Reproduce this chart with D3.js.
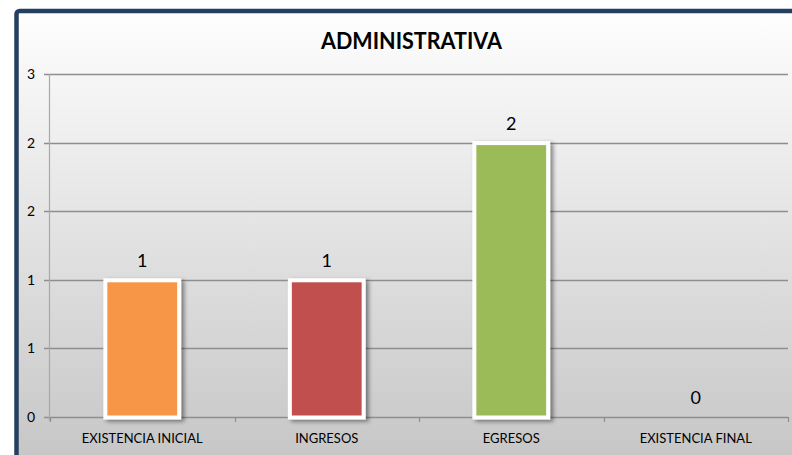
<!DOCTYPE html>
<html>
<head>
<meta charset="utf-8">
<script src="https://cdn.jsdelivr.net/npm/d3@7"></script>
<style>
html,body{margin:0;padding:0;background:#fff;}
svg{display:block;}
</style>
</head>
<body>
<svg id="chart" width="792" height="455"></svg>
<script>
const title = "ADMINISTRATIVA";
const categories = ["EXISTENCIA INICIAL", "INGRESOS", "EGRESOS", "EXISTENCIA FINAL"];
const values = [1, 1, 2, 0];
const barColors = ["#F79646", "#C0504D", "#9BBB59", "#4BACC6"];
const yTickValues = [0, 0.5, 1, 1.5, 2, 2.5];
const yTickLabels = ["0", "1", "1", "2", "2", "3"];

const W = 792, H = 455;
const FONT = "Lato, 'Open Sans', sans-serif";
const svg = d3.select("#chart");
const defs = svg.append("defs");

const bg = defs.append("linearGradient").attr("id", "bg")
  .attr("x1", 0).attr("y1", 0).attr("x2", 0).attr("y2", 1);
bg.append("stop").attr("offset", "0%").attr("stop-color", "#fefefe");
bg.append("stop").attr("offset", "100%").attr("stop-color", "#c3c3c3");

const sh = defs.append("filter").attr("id", "shadow")
  .attr("x", "-20%").attr("y", "-20%").attr("width", "150%").attr("height", "140%");
sh.append("feDropShadow").attr("dx", 3).attr("dy", 2).attr("stdDeviation", 2)
  .attr("flood-color", "#000").attr("flood-opacity", 0.45);

// frame background + border
svg.append("rect").attr("x", 16.5).attr("y", 11).attr("width", W + 20).attr("height", H + 20)
  .attr("rx", 3).attr("fill", "url(#bg)").attr("stroke", "#243F60").attr("stroke-width", 4.5);

const plot = { left: 50, right: 788, top: 74, bottom: 417 };

const x = d3.scaleBand().domain(categories).range([plot.left, plot.right]).padding(0);
const y = d3.scaleLinear().domain([0, 2.5]).range([plot.bottom, plot.top]);

const rows = categories.map((c, i) => ({ cat: c, val: values[i], color: barColors[i] }));

// gridlines
svg.append("g").selectAll("line").data(yTickValues).join("line")
  .attr("x1", plot.left - 6).attr("x2", plot.right)
  .attr("y1", d => Math.round(y(d)) + 0.5).attr("y2", d => Math.round(y(d)) + 0.5)
  .attr("stroke", "#8e8e8e").attr("stroke-width", 1.4);

// vertical axis line
svg.append("line").attr("x1", plot.left - 0.5).attr("x2", plot.left - 0.5)
  .attr("y1", plot.top).attr("y2", plot.bottom + 4)
  .attr("stroke", "#a8a8a8").attr("stroke-width", 1.2);

// y tick labels
svg.append("g").selectAll("text").data(yTickValues).join("text")
  .attr("x", 35).attr("y", d => y(d) + 5)
  .attr("text-anchor", "end")
  .attr("font-family", FONT).attr("font-size", 14).attr("fill", "#000")
  .text((d, i) => yTickLabels[i]);

// x axis ticks at category boundaries
const bounds = categories.map(c => x(c)).concat([plot.right]);
svg.append("g").selectAll("line").data(bounds).join("line")
  .attr("x1", d => Math.round(d) + 0.5).attr("x2", d => Math.round(d) + 0.5)
  .attr("y1", plot.bottom).attr("y2", plot.bottom + 5)
  .attr("stroke", "#8e8e8e").attr("stroke-width", 1.2);

// bars
const bw = x.bandwidth() * 0.4;
svg.append("g").selectAll("rect").data(rows.filter(r => r.val > 0)).join("rect")
  .attr("x", d => x(d.cat) + (x.bandwidth() - bw) / 2)
  .attr("y", d => y(d.val) + 0.5)
  .attr("width", bw)
  .attr("height", d => y(0) - y(d.val))
  .attr("fill", d => d.color)
  .attr("stroke", "#fff").attr("stroke-width", 4)
  .attr("filter", "url(#shadow)");

// value labels
svg.append("g").selectAll("text").data(rows).join("text")
  .attr("x", d => x(d.cat) + x.bandwidth() / 2)
  .attr("y", d => y(d.val) - 13)
  .attr("text-anchor", "middle")
  .attr("font-family", FONT).attr("font-size", 18).attr("fill", "#000")
  .text(d => d.val);

// category labels
svg.append("g").selectAll("text").data(categories).join("text")
  .attr("x", d => x(d) + x.bandwidth() / 2)
  .attr("y", 443)
  .attr("text-anchor", "middle")
  .attr("font-family", FONT).attr("font-size", 13).attr("fill", "#000")
  .text(d => d);

// title
svg.append("text").attr("x", 411.5).attr("y", 48.5)
  .attr("text-anchor", "middle")
  .attr("font-family", FONT).attr("font-weight", "bold")
  .attr("font-size", 22).attr("fill", "#000")
  .attr("textLength", 181).attr("lengthAdjust", "spacingAndGlyphs")
  .text(title);
</script>
</body>
</html>
